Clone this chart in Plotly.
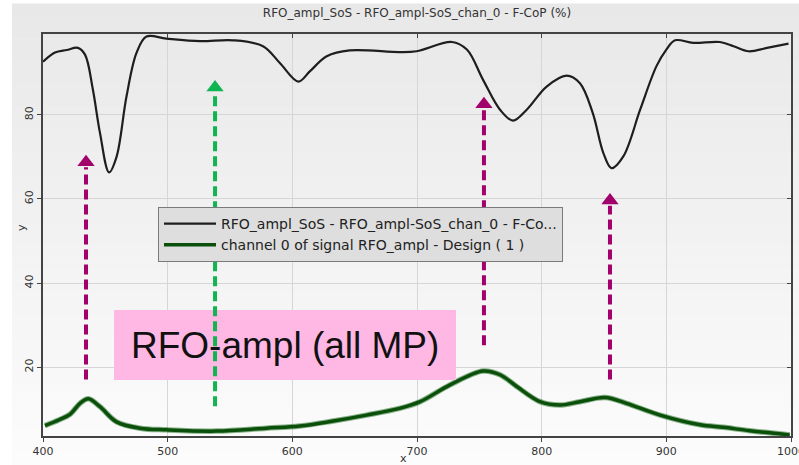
import plotly.graph_objects as go

# ---- data ----
fcop_x = [400, 409.6, 419, 428, 433.7, 440, 445.7, 453, 459, 467, 475, 483, 499, 526, 552.6,
          576.5, 590, 604.8, 614, 627.6, 646, 686, 699.7, 728, 740, 753, 766.6, 777, 788,
          804, 820, 830.7, 841, 849.5, 856, 865.5, 879, 892, 900, 907, 921.6, 943, 954, 966,
          980.8, 998]
fcop_y = [92.6, 94.8, 95.4, 95.9, 94.3, 86.0, 75.7, 66.3, 70.0, 84.4, 94.7, 98.6, 98.1, 97.5,
          97.7, 96.3, 92.3, 87.9, 90.3, 93.9, 95.3, 94.9, 95.1, 97.3, 95.5, 88.3, 81.2, 78.6,
          81.2, 86.7, 89.3, 87.5, 80.4, 70.9, 67.3, 70.1, 81.2, 91.5, 95.5, 97.7, 97.1, 97.3,
          96.3, 95.1, 95.9, 96.9]

chan_x = [401.6, 413, 421.7, 429.7, 436.4, 445.7, 459, 477.8, 499, 539, 579, 606, 632.8, 659.5,
          686, 702.5, 726.5, 753, 766.6, 780, 798.6, 814.7, 830.7, 850.8, 868, 895, 927, 945.7,
          967, 999]
chan_y = [6.1, 7.5, 8.8, 11.4, 12.5, 10.6, 7.0, 5.5, 5.1, 4.8, 5.5, 6.0, 7.2, 8.6,
          10.2, 11.8, 15.8, 19.1, 18.2, 15.4, 11.8, 11.0, 11.8, 12.8, 11.4, 8.6, 6.3, 5.7,
          4.9, 3.9]

x_ticks = [400, 500, 600, 700, 800, 900, 1000]
y_ticks = [20, 40, 60, 80]

# arrows: x, bottom, tip
arrow_x = [434.5, 538, 753.7, 854.8]
arrow_y0 = [17.1, 10.7, 25.2, 17.1]
arrow_y1 = [70.5, 88.3, 84.3, 61.4]
arrow_col = ["#a2006b", "#10b552", "#a2006b", "#a2006b"]

title = "RFO_ampl_SoS - RFO_ampl-SoS_chan_0 - F-CoP (%)"
name1 = "RFO_ampl_SoS - RFO_ampl-SoS_chan_0 - F-Co..."
name2 = "channel 0 of signal RFO_ampl - Design ( 1 )"
label = "RFO-ampl (all MP)"

W, H = 799, 465
L, R, T, B = 43, 8, 34, 29
pw, ph = W - L - R, H - T - B

def px_x(p):
    return (p - L) / pw

def px_y(p):
    return (H - B - p) / ph

fig = go.Figure()

# glow under green curve
fig.add_trace(go.Scatter(x=chan_x, y=chan_y, mode="lines", line=dict(color="rgba(0,90,0,0.45)", width=5.5, shape="spline"),
                         showlegend=False, hoverinfo="skip"))
fig.add_trace(go.Scatter(x=fcop_x, y=fcop_y, mode="lines", name=name1,
                         line=dict(color="#1e1e1e", width=2.2, shape="spline")))
fig.add_trace(go.Scatter(x=chan_x, y=chan_y, mode="lines", name=name2,
                         line=dict(color="#0a4f0a", width=3.5, shape="spline")))

shapes = []
# gradient background bands
nb = 40
top_px, bot_px = 4, H
for i in range(nb):
    p0 = top_px + (bot_px - top_px) * i / nb
    p1 = top_px + (bot_px - top_px) * (i + 1) / nb
    t = i / (nb - 1)
    c = int(round(232 + (252 - 232) * t))
    shapes.append(dict(type="rect", xref="paper", yref="paper",
                       x0=px_x(12), x1=px_x(W + 2),
                       y0=px_y(p1), y1=px_y(p0) + 0.001,
                       fillcolor=f"rgb({c},{c},{c})", line=dict(width=0), layer="below"))

# pink label box
shapes.append(dict(type="rect", xref="paper", yref="paper", x0=px_x(114), x1=px_x(456),
                   y0=px_y(380), y1=px_y(310), fillcolor="#ffb8e4", line=dict(width=0), layer="above"))

for xa, y0, y1, col in zip(arrow_x, arrow_y0, arrow_y1, arrow_col):
    shapes.append(dict(type="line", xref="x", yref="y", x0=xa, x1=xa, y0=y0, y1=y1 - 3,
                       line=dict(color=col, width=4, dash="10px,5px"), layer="above"))
    fig.add_trace(go.Scatter(x=[xa], y=[y1 - 1.8], mode="markers", showlegend=False, hoverinfo="skip",
                             marker=dict(symbol="triangle-up", size=15, color=col, line=dict(width=0))))

fig.update_layout(shapes=shapes)

fig.add_annotation(text=label, xref="paper", yref="paper",
                   x=px_x(285), y=px_y(345), showarrow=False,
                   font=dict(family="Liberation Sans, Arial", size=37, color="#111"),
                   xanchor="center", yanchor="middle")
# axis titles
fig.add_annotation(text="x", xref="paper", yref="paper", x=px_x(403), y=px_y(459),
                   showarrow=False, font=dict(family="DejaVu Sans", size=11, color="#333"),
                   xanchor="center", yanchor="middle")
fig.add_annotation(text="y", xref="paper", yref="paper", x=px_x(21), y=px_y(228),
                   showarrow=False, textangle=-90, font=dict(family="DejaVu Sans", size=11, color="#333"),
                   xanchor="center", yanchor="middle")

axis_font = dict(family="DejaVu Sans", size=11, color="#333")
fig.update_layout(
    width=W, height=H,
    margin=dict(l=L, r=R, t=T, b=B, autoexpand=False),
    paper_bgcolor="white",
    plot_bgcolor="rgba(0,0,0,0)",
    title=dict(text=title, x=0.5, xref="paper", y=1 - 13 / H, yanchor="middle",
               font=dict(family="DejaVu Sans", size=12, color="#333")),
    font=axis_font,
    showlegend=True,
    legend=dict(x=px_x(158), y=px_y(207), xanchor="left", yanchor="top",
                bgcolor="#dedede", bordercolor="#7a7a7a", borderwidth=1,
                font=dict(family="DejaVu Sans", size=14, color="#222"),
                tracegroupgap=0, itemwidth=52),
    xaxis=dict(range=[400, 1000], tickvals=x_ticks, ticks="outside", ticklen=4, tickcolor="#444",
               showline=True, linecolor="#444", linewidth=1.5, mirror=True, automargin=False,
               gridcolor="#d6d6d6", gridwidth=1, zeroline=False, ticklabeloverflow="allow",
               tickfont=axis_font),
    yaxis=dict(range=[3.64, 99.2], tickvals=y_ticks, ticks="outside", ticklen=4, tickcolor="#444",
               showline=True, linecolor="#444", linewidth=1.5, mirror=True, automargin=False,
               gridcolor="#d6d6d6", gridwidth=1, zeroline=False, tickangle=-90,
               tickfont=axis_font),
    xaxis2=dict(range=[400, 1000], tickvals=x_ticks, overlaying="x", side="top", ticks="inside",
                ticklen=4, tickcolor="#444", showticklabels=False, showgrid=False, zeroline=False),
    yaxis2=dict(range=[3.64, 99.2], tickvals=y_ticks, overlaying="y", side="right", ticks="inside",
                ticklen=4, tickcolor="#444", showticklabels=False, showgrid=False, zeroline=False),
)
fig.add_trace(go.Scatter(x=[None], y=[None], xaxis="x2", yaxis="y2", showlegend=False, hoverinfo="skip"))

fig.write_html("out.html", config={"displayModeBar": False},
               post_script="document.body.style.margin='0';")
